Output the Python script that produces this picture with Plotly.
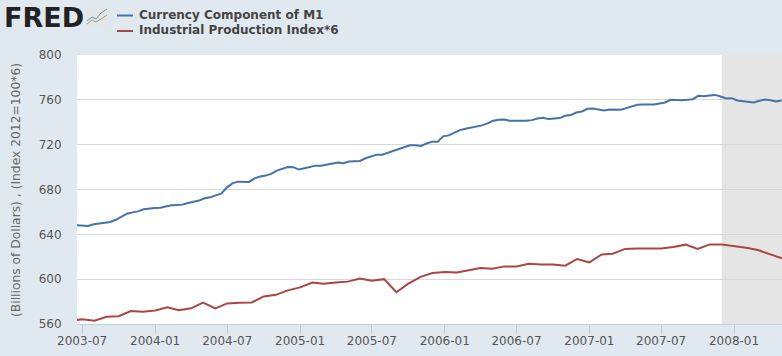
import pandas as pd
import plotly.graph_objects as go

currency_start = "2003-06-18"
currency_step_days = 14
currency = [648.1, 648.1, 647.5, 649, 649.5, 650, 651, 653, 655.7, 658.4, 659.6, 660.5, 662.3, 663.2, 663.5, 663.8,
            665, 665.9, 666.2, 666.5, 668, 669.2, 670.1, 672.2, 673, 674.8, 676.3, 681.7, 685.5, 687, 686.6,
            686.8, 690, 691.6, 692.4, 693.9, 696.9, 698.4, 700.1, 699.9, 697.8, 699, 700.4, 701.3, 701.3, 702,
            703, 704, 703.4, 704.9, 705.2, 705.5, 707.9, 709.6, 711.1, 711.1, 712.9, 714.7, 715.9, 718.2, 719.4,
            719.4, 718.8, 721, 722.7, 722.7, 727.4, 728.3, 731, 733, 734.2, 735.1, 736.6, 737.2, 739, 741.3,
            742.2, 742.5, 741.3, 741.6, 741.3, 741.3, 741.9, 743.4, 744, 742.8, 743.1, 743.7, 745.8, 746.4,
            748.7, 749.6, 752,
            752.3, 751.4, 750.5, 751.4, 751.4, 751.1, 752.6, 754.4, 755.6, 755.9, 755.9, 755.9, 756.7, 757.6,
            760, 759.7, 759.7, 760, 760.6, 763.6, 763.3, 763.9, 764.4, 763, 761.2, 761.5, 759.4, 758.8, 758.2,
            757.6, 759.1, 760.3, 759.7, 758.5, 759.4]
industrial_start = "2003-06-01"
industrial = [563, 564.2, 563, 566.5, 567, 571.6, 571, 572, 575, 572.2, 574, 579, 574, 578.4, 579, 579.2, 584.6,
              586, 590, 592.7, 597, 596, 597, 597.8, 600.5, 598.7, 600, 588.3, 596, 602, 605.5, 606.4, 606, 608,
              610, 609.4, 611.4, 611.4, 613.8, 613, 613, 612, 618, 615, 622, 622.7, 627, 627.4, 627.4, 627.4,
              628.8, 630.8, 627, 631, 631, 629.6, 628, 626, 622, 618.6]
tick_dates = ["2003-07-01", "2004-01-01", "2004-07-01", "2005-01-01", "2005-07-01", "2006-01-01", "2006-07-01",
              "2007-01-01", "2007-07-01", "2008-01-01"]
tick_labels = ["2003-07", "2004-01", "2004-07", "2005-01", "2005-07", "2006-01", "2006-07", "2007-01", "2007-07",
               "2008-01"]
y_ticks = [560, 600, 640, 680, 720, 760, 800]
recession = ("2007-12-01", "2008-05-01")
x_range = ("2003-06-18", "2008-05-01")

BG = "#e1e9f0"
BLUE = "#4572a7"
RED = "#aa4643"
TXT = "#555555"

fig = go.Figure()
fig.add_trace(go.Scatter(
    x=pd.date_range(currency_start, periods=len(currency), freq=f"{currency_step_days}D"), y=currency,
    mode="lines", line=dict(color=BLUE, width=2), name="Currency Component of M1"))
fig.add_trace(go.Scatter(
    x=pd.date_range(industrial_start, periods=len(industrial), freq="MS"), y=industrial,
    mode="lines", line=dict(color=RED, width=2), name="Industrial Production Index*6"))

def px(x):
    return (x - 77) / (782 - 77)
def py(y):
    return (324 - y) / (324 - 55)

shapes = [
    dict(type="rect", xref="x", yref="paper", x0=recession[0], x1=recession[1], y0=0, y1=1,
         fillcolor="#e5e5e5", line_width=0, layer="below"),
    dict(type="line", xref="paper", yref="paper", x0=px(117), x1=px(133), y0=py(15.5), y1=py(15.5),
         line=dict(color=BLUE, width=2)),
    dict(type="line", xref="paper", yref="paper", x0=px(117), x1=px(133), y0=py(31), y1=py(31),
         line=dict(color=RED, width=2)),
    dict(type="rect", xref="paper", yref="paper", x0=px(86), x1=px(108), y0=py(27), y1=py(7),
         fillcolor="#e4e6e8", line_width=0),
    dict(type="path", xref="paper", yref="paper",
         path=f"M {px(87)} {py(21)} L {px(92)} {py(17)} L {px(96)} {py(19)} L {px(101)} {py(13)} L {px(107)} {py(9)}",
         line=dict(color="#6d8fae", width=1)),
    dict(type="path", xref="paper", yref="paper",
         path=f"M {px(87)} {py(24)} L {px(92)} {py(20)} L {px(96)} {py(22)} L {px(101)} {py(19)} L {px(107)} {py(15)}",
         line=dict(color="#8ea867", width=1)),
]

annotations = [
    dict(text="<b>FRED</b>", xref="paper", yref="paper", x=px(3), y=py(17), xanchor="left", yanchor="middle",
         showarrow=False, borderpad=0, font=dict(family="DejaVu Sans", size=27, color="#222222")),
    dict(text="<b>Currency Component of M1</b>", xref="paper", yref="paper", x=px(136.5), y=py(15.5), xanchor="left",
         yanchor="middle", showarrow=False, font=dict(family="DejaVu Sans", size=12, color="#444444")),
    dict(text="<b>Industrial Production Index*6</b>", xref="paper", yref="paper", x=px(136.5), y=py(30.5),
         xanchor="left", yanchor="middle", showarrow=False, font=dict(family="DejaVu Sans", size=12, color="#444444")),
    dict(text="(Billions of Dollars) , (Index 2012=100*6)", xref="paper", yref="paper", x=px(16), y=py(190),
         xanchor="center", yanchor="middle", textangle=-90, showarrow=False,
         font=dict(family="DejaVu Sans", size=12.3, color="#666666")),
]

fig.update_layout(
    width=782, height=356, margin=dict(l=77, r=0, t=55, b=32, pad=0),
    paper_bgcolor=BG, plot_bgcolor="white", showlegend=False,
    font=dict(family="DejaVu Sans", size=12, color=TXT),
    shapes=shapes, annotations=annotations,
    xaxis=dict(range=list(x_range), tickmode="array", tickvals=tick_dates, ticktext=tick_labels, showgrid=False,
               ticks="outside", ticklen=9, tickcolor="#c0d0e0", tickwidth=1, showline=True, linecolor="#c0d0e0",
               linewidth=1, zeroline=False, ticklabelstandoff=-3, tickfont=dict(size=12, color=TXT)),
    yaxis=dict(range=[560, 800], tickmode="array", tickvals=y_ticks, showgrid=True, gridcolor="#d8d8d8", gridwidth=1,
               zeroline=False, showline=False, ticks="outside", ticklen=12, tickcolor="rgba(0,0,0,0)",
               tickfont=dict(size=12, color=TXT)),
)
fig.write_html("out.html", config=dict(displayModeBar=False),
               post_script="document.body.style.margin='0';document.body.style.background='#e1e9f0';")
